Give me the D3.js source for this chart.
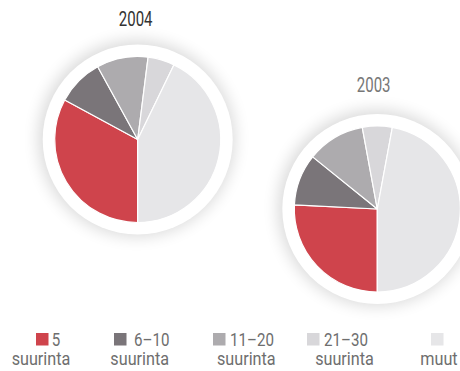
<!DOCTYPE html>
<html>
<head>
<meta charset="utf-8">
<script src="https://cdn.jsdelivr.net/npm/d3@7"></script>
<style>
  html, body { margin: 0; padding: 0; background: #fff; }
  svg { display: block; }
</style>
</head>
<body>
<svg id="chart" width="460" height="371"></svg>
<script>
// Share of the market by size group, two years
const categories = ["5 suurinta", "6–10 suurinta", "11–20 suurinta", "21–30 suurinta", "muut"];
const legendLine1 = ["5", "6–10", "11–20", "21–30", ""];
const legendLine2 = ["suurinta", "suurinta", "suurinta", "suurinta", "muut"];
const years = ["2004", "2003"];
const values2004 = [32.9, 9.1, 10.0, 5.2, 42.8];
const values2003 = [25.8, 10.0, 11.3, 5.8, 47.1];

const colors = ["#cf444c", "#7a7579", "#adabae", "#d8d7da", "#e6e6e8"];

const svg = d3.select("#chart");
const defs = svg.append("defs");
defs.append("filter")
  .attr("id", "soft")
  .attr("x", "-30%").attr("y", "-30%").attr("width", "160%").attr("height", "160%")
  .append("feGaussianBlur").attr("stdDeviation", 8);

const color = d3.scaleOrdinal().domain(categories).range(colors);

const pie = d3.pie()
  .sort(null)
  .value(d => d.value)
  .startAngle(Math.PI)
  .endAngle(3 * Math.PI);

const R = 83;      // pie radius
const RING = 95;   // white frame radius
const arc = d3.arc().innerRadius(0).outerRadius(R);

const charts = [
  { year: years[0], values: values2004, cx: 137.7, cy: 139.5, tx: 135.7, ty: 26, titleColor: "#333" },
  { year: years[1], values: values2003, cx: 377.3, cy: 209, tx: 373.7, ty: 91.7, titleColor: "#777" }
];

function squeezedText(parent, x, y, txt, size, sx, anchor, fill) {
  parent.append("g")
    .attr("transform", `translate(${x},${y}) scale(${sx},1)`)
    .append("text")
    .attr("text-anchor", anchor)
    .attr("font-family", "Roboto, 'Open Sans', sans-serif")
    .attr("font-size", size)
    .attr("fill", fill)
    .text(txt);
}

charts.forEach(c => {
  const g = svg.append("g");
  // soft halo
  g.append("circle")
    .attr("cx", c.cx - 1).attr("cy", c.cy - 1).attr("r", RING + 3)
    .attr("fill", "#000").attr("opacity", 0.15)
    .attr("filter", "url(#soft)");
  // white frame
  g.append("circle")
    .attr("cx", c.cx).attr("cy", c.cy).attr("r", RING)
    .attr("fill", "#fff");

  const data = categories.map((k, i) => ({ key: k, value: c.values[i] }));
  g.append("g")
    .attr("transform", `translate(${c.cx},${c.cy})`)
    .selectAll("path")
    .data(pie(data))
    .join("path")
    .attr("d", arc)
    .attr("fill", d => color(d.data.key))
    .attr("stroke", "#fff")
    .attr("stroke-width", 1.2)
    .attr("stroke-linejoin", "round");

  squeezedText(svg, c.tx, c.ty, c.year, 20, 0.75, "middle", c.titleColor);
});

// Legend
const sqX = [36, 114, 213, 307, 431];
const t1X = [51.7, 134, 230, 324, 0];
const t2C = [41, 139.7, 246.3, 344.5, 439];
const legend = svg.append("g");
categories.forEach((k, i) => {
  legend.append("rect")
    .attr("x", sqX[i]).attr("y", 333)
    .attr("width", 12.5).attr("height", 12.5)
    .attr("fill", color(k));
  if (legendLine1[i]) squeezedText(legend, t1X[i], 345.7, legendLine1[i], 18, 0.84, "start", "#6e6e6e");
  squeezedText(legend, t2C[i], 365, legendLine2[i], 18, 0.9, "middle", "#6e6e6e");
});
</script>
</body>
</html>
